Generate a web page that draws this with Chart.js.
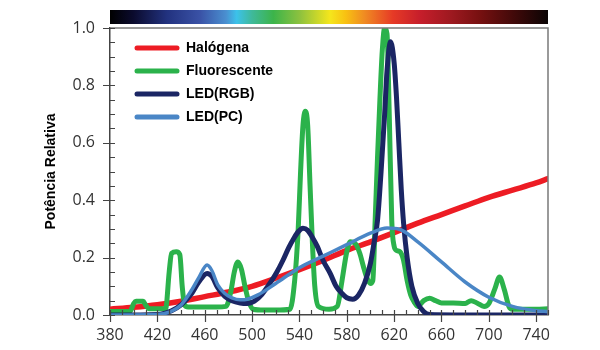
<!DOCTYPE html>
<html>
<head>
<meta charset="utf-8">
<script src="https://cdn.jsdelivr.net/npm/chart.js@4.4.1/dist/chart.umd.min.js"></script>
<style>
  html, body { margin: 0; padding: 0; background: #fff; }
</style>
</head>
<body>
<canvas id="spd" width="600" height="350"></canvas>
<script>
// --- DADOS: distribuição espectral relativa de cada fonte ---
const halogenaNm  = [380, 400, 420, 440, 460, 480, 500, 520, 540, 560, 580, 600, 620, 640, 660, 680, 700, 720, 740, 750];
const halogenaVal = [0.02, 0.027, 0.036, 0.048, 0.064, 0.08, 0.10, 0.128, 0.158, 0.19, 0.225, 0.255, 0.287, 0.32, 0.35, 0.38, 0.41, 0.435, 0.46, 0.475];

const fluorNm  = [380, 390, 397, 400, 402, 408, 410, 413, 420, 427, 430, 432, 436, 439, 441, 443, 446, 460, 470, 478,
                  482, 485, 488, 491, 494, 497, 501, 510, 520, 532, 536, 539, 541, 543, 545, 547, 549, 551, 553, 556,
                  565, 572, 576, 580, 583, 587, 591, 594, 597, 600, 602, 604, 606, 608, 610, 612, 614, 616, 618, 620,
                  622, 625, 628, 631, 634, 637, 640, 645, 650, 655, 660, 670, 680, 685, 690, 696, 700, 705, 709, 713,
                  717, 720, 730, 740, 750];
const fluorVal = [0.012, 0.012, 0.013, 0.04, 0.048, 0.048, 0.035, 0.022, 0.022, 0.022, 0.15, 0.215, 0.22, 0.21, 0.1, 0.035, 0.028, 0.028, 0.028, 0.03,
                  0.08, 0.15, 0.185, 0.16, 0.1, 0.05, 0.02, 0.017, 0.017, 0.02, 0.12, 0.3, 0.5, 0.66, 0.71, 0.66, 0.45, 0.25, 0.1, 0.03,
                  0.02, 0.03, 0.12, 0.22, 0.255, 0.25, 0.215, 0.17, 0.13, 0.11, 0.12, 0.33, 0.55, 0.75, 0.92, 1.0, 0.98, 0.68, 0.33, 0.24,
                  0.225, 0.22, 0.19, 0.12, 0.07, 0.045, 0.03, 0.05, 0.058, 0.05, 0.042, 0.042, 0.04, 0.05, 0.042, 0.03, 0.04, 0.09, 0.132, 0.09,
                  0.03, 0.02, 0.02, 0.02, 0.022];

const ledRgbNm  = [380, 420, 432, 440, 449, 455, 462, 466, 471, 477, 483, 490, 496, 502, 508, 515, 521, 526, 531, 535,
                   539, 543, 547, 551, 555, 560, 566, 571, 576, 580, 585, 590, 595, 600, 603, 606, 609, 612, 614, 617,
                   620, 622, 624, 626, 628, 631, 635, 640, 645, 650, 700, 750];
const ledRgbVal = [0.0, 0.002, 0.015, 0.035, 0.075, 0.115, 0.145, 0.135, 0.095, 0.065, 0.05, 0.042, 0.04, 0.048, 0.07, 0.11, 0.15, 0.19, 0.235, 0.265,
                   0.29, 0.302, 0.295, 0.27, 0.24, 0.19, 0.145, 0.1, 0.075, 0.06, 0.055, 0.07, 0.11, 0.18, 0.25, 0.33, 0.5, 0.7, 0.85, 0.952,
                   0.88, 0.76, 0.6, 0.44, 0.32, 0.2, 0.1, 0.04, 0.012, 0.002, 0.0, 0.0];

const ledPcNm  = [380, 420, 430, 440, 449, 455, 462, 466, 471, 477, 483, 490, 496, 505, 520, 540, 560, 580, 600, 614,
                  625, 640, 660, 680, 700, 720, 740, 750];
const ledPcVal = [0.0, 0.002, 0.01, 0.035, 0.087, 0.13, 0.174, 0.155, 0.105, 0.075, 0.06, 0.053, 0.055, 0.07, 0.11, 0.165, 0.205, 0.245, 0.285, 0.303,
                  0.298, 0.255, 0.185, 0.115, 0.062, 0.03, 0.015, 0.012];

// eixos
const xTicks = [380, 420, 460, 500, 540, 580, 620, 660, 700, 740];
const yTicks = [0, 0.2, 0.4, 0.6, 0.8, 1.0];
const xRange = [380, 750];
const yRange = [0, 1];

// cores do espectro visível (barra acima do gráfico)
const spectrumStops = [
    [380, '#000000'], [400, '#0b0b2e'], [428, '#22327f'], [456, '#3a52a6'], [478, '#4a8fd0'],
    [487, '#3cc2ea'], [500, '#3fb99a'], [518, '#3cb44a'], [540, '#8cc13f'], [566, '#f5e61c'],
    [579, '#f8c112'], [595, '#f08b22'], [619, '#e63a26'], [642, '#c61e2b'], [668, '#9e1920'],
    [693, '#761010'], [718, '#470a0a'], [750, '#0a0404']
];

const toPoints = (xs, ys) => xs.map((x, i) => ({ x: x, y: ys[i] }));

// --- PLUGINS ---
const spectrumBar = {
    id: 'spectrumBar',
    afterDraw(chart) {
        const { ctx, chartArea, scales } = chart;
        const x0 = chartArea.left, x1 = chartArea.right;
        const grad = ctx.createLinearGradient(x0, 0, x1, 0);
        spectrumStops.forEach(([nm, color]) => {
            const p = (scales.x.getPixelForValue(nm) - x0) / (x1 - x0);
            grad.addColorStop(Math.min(1, Math.max(0, p)), color);
        });
        ctx.save();
        ctx.fillStyle = grad;
        ctx.fillRect(x0, chartArea.top - 18, x1 - x0, 14);
        ctx.restore();
    }
};

const frameAndTicks = {
    id: 'frameAndTicks',
    afterDraw(chart) {
        const { ctx, chartArea, scales } = chart;
        const { left, right, top, bottom } = chartArea;
        ctx.save();
        // moldura superior e direita
        ctx.strokeStyle = '#7a7a7a';
        ctx.lineWidth = 1.5;
        ctx.beginPath();
        ctx.moveTo(left, top);
        ctx.lineTo(right, top);
        ctx.lineTo(right, bottom);
        ctx.stroke();

        ctx.strokeStyle = '#444';
        ctx.lineWidth = 1.2;
        ctx.beginPath();
        // marcas do eixo y (a cada 0.05)
        for (let v = yRange[0]; v <= yRange[1] + 1e-9; v += 0.05) {
            const py = Math.round(scales.y.getPixelForValue(v)) + 0.5;
            const major = yTicks.some(t => Math.abs(t - v) < 1e-6);
            ctx.moveTo(left - (major ? 7 : 0), py);
            ctx.lineTo(left + 5, py);
        }
        // marcas do eixo x (a cada 10 nm)
        for (let v = xRange[0]; v <= xRange[1]; v += 10) {
            const px = Math.round(scales.x.getPixelForValue(v)) + 0.5;
            const major = xTicks.includes(v);
            ctx.moveTo(px, bottom - 5);
            ctx.lineTo(px, bottom + (major ? 7 : 0));
        }
        ctx.stroke();
        ctx.restore();
    }
};

const legendInside = {
    id: 'legendInside',
    afterDatasetsDraw(chart) {
        const { ctx, chartArea } = chart;
        ctx.save();
        ctx.font = 'bold 14px "Liberation Sans", Arial, sans-serif';
        ctx.textBaseline = 'middle';
        ctx.fillStyle = '#000';
        ctx.lineCap = 'round';
        chart.data.datasets.forEach((ds, i) => {
            const y = chartArea.top + 20 + i * 23;
            ctx.strokeStyle = ds.borderColor;
            ctx.lineWidth = 5;
            ctx.beginPath();
            ctx.moveTo(chartArea.left + 27, y);
            ctx.lineTo(chartArea.left + 67, y);
            ctx.stroke();
            ctx.fillText(ds.label, chartArea.left + 76, y);
        });
        ctx.restore();
    }
};

// --- GRÁFICO ---
const ctx = document.getElementById('spd').getContext('2d');
new Chart(ctx, {
    type: 'line',
    data: {
        datasets: [
            { label: 'Halógena', data: toPoints(halogenaNm, halogenaVal), borderColor: '#ed1c24', borderWidth: 5.5, order: 4 },
            { label: 'Fluorescente', data: toPoints(fluorNm, fluorVal), borderColor: '#2bb24b', borderWidth: 5, order: 3 },
            { label: 'LED(RGB)', data: toPoints(ledRgbNm, ledRgbVal), borderColor: '#1b2664', borderWidth: 5, order: 2 },
            { label: 'LED(PC)', data: toPoints(ledPcNm, ledPcVal), borderColor: '#4a86c6', borderWidth: 3.5, order: 1 }
        ]
    },
    options: {
        responsive: false,
        animation: false,
        elements: {
            point: { radius: 0 },
            line: { cubicInterpolationMode: 'monotone', borderCapStyle: 'round', borderJoinStyle: 'round' }
        },
        layout: { padding: { top: 28, right: 52, left: 0, bottom: 0 } },
        plugins: { legend: { display: false }, tooltip: { enabled: false } },
        scales: {
            x: {
                type: 'linear',
                min: xRange[0],
                max: xRange[1],
                afterBuildTicks: (scale) => { scale.ticks = xTicks.map(v => ({ value: v })); },
                afterFit: (scale) => { scale.height = 35; },
                grid: { display: false, drawTicks: false },
                border: { display: true, color: '#444', width: 1.5 },
                ticks: {
                    padding: 11,
                    maxRotation: 0,
                    autoSkip: false,
                    color: '#333',
                    font: { family: '"Open Sans", sans-serif', size: 16 }
                }
            },
            y: {
                min: yRange[0],
                max: yRange[1],
                afterBuildTicks: (scale) => { scale.ticks = yTicks.map(v => ({ value: v })); },
                afterFit: (scale) => { scale.width = 110; },
                grid: { display: false, drawTicks: false },
                border: { display: true, color: '#444', width: 1.5 },
                ticks: {
                    padding: 15,
                    color: '#333',
                    font: { family: '"Open Sans", sans-serif', size: 16 },
                    callback: (v) => Number(v).toFixed(1)
                },
                title: {
                    display: true,
                    text: 'Potência Relativa',
                    color: '#000',
                    padding: { top: 43, bottom: 0 },
                    font: { family: '"Liberation Sans", Arial, sans-serif', size: 14, weight: 'bold' }
                }
            }
        }
    },
    plugins: [spectrumBar, frameAndTicks, legendInside]
});
</script>
</body>
</html>
